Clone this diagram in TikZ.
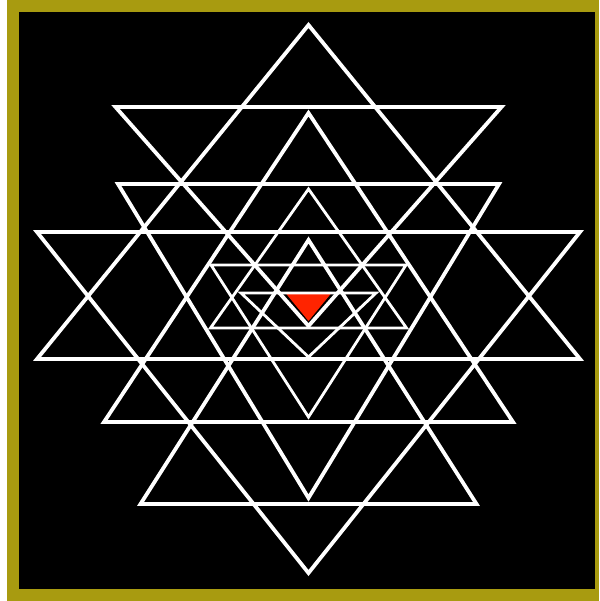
\documentclass[tikz,border=0pt]{standalone}
\usepackage{tikz}
\definecolor{rim}{HTML}{A89B10}
\definecolor{bindu}{HTML}{FF2400}

\begin{document}
\begin{tikzpicture}[x=1pt,y=-1pt]
  \useasboundingbox (0,0) rectangle (599,601);
  \fill[white] (0,0) rectangle (599,601);
  \fill[rim] (7,0) rectangle (599,601);
  \fill[black] (19,12) rectangle (595,589);
  \fill[bindu] (285.5,293) -- (331.5,293) -- (308.5,321) -- cycle;
  % outer triangles: base y / half width / apex y
  \foreach \b/\w/\a in {359/271.5/25, 232/271.5/573, 107/193/326, 184/190.5/498, 422/204.5/113, 504/168/240} {
    \draw[white,line width=3.8pt] (308.5-\w,\b) -- (308.5+\w,\b) -- (308.5,\a) -- cycle;
  }
  % inner triangles
  \foreach \b/\w/\a in {265/97.5/417, 293/67.5/357, 328/98/189} {
    \draw[white,line width=2.8pt] (308.5-\w,\b) -- (308.5+\w,\b) -- (308.5,\a) -- cycle;
  }
\end{tikzpicture}
\end{document}
